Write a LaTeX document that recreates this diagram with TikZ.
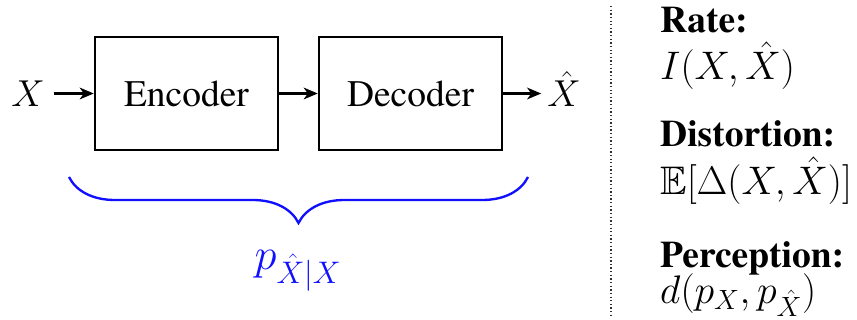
\RequirePackage{fix-cm}
\documentclass[tikz,border=0pt]{standalone}
\usepackage[T1]{fontenc}
\usepackage{times}
\usepackage{amssymb}
\usetikzlibrary{arrows.meta,decorations.pathreplacing}
\definecolor{colBlue}{HTML}{1010FF}
\definecolor{colGray}{HTML}{303030}
\def\boxfont{\fontsize{32pt}{38pt}\selectfont}
\def\varfont{\fontsize{32pt}{38pt}\selectfont}
\def\lblfont{\fontsize{38pt}{44pt}\selectfont}
\def\hdfont{\fontsize{32pt}{38pt}\selectfont\bfseries}
\def\eqfont{\fontsize{34pt}{40pt}\selectfont}
\tikzset{
  blockbox/.style={draw, line width=2.1pt, minimum width=5.49cm, minimum height=3.39cm,
    inner sep=0pt, font=\boxfont},
  flow/.style={line width=1.8pt, -{Stealth[length=12pt, width=10pt, inset=3.5pt]}},
  bracep/.style={draw=colBlue, line width=2pt,
    decorate, decoration={brace, mirror, amplitude=1.38cm}},
  rtitle/.style={anchor=base west, font=\hdfont, inner sep=0pt},
  rmath/.style={anchor=base west, font=\eqfont, inner sep=0pt}
}

\begin{document}
\begin{tikzpicture}[x=0.03cm, y=-0.03cm]
\useasboundingbox (0,0) rectangle (857,320);

% ===================== LEFT: encoder / decoder chain =====================
\node[blockbox] (enc) at (186.5,93.5) {Encoder};
\node[blockbox] (dec) at (410.5,93.5) {Decoder};
\node[font=\varfont, inner xsep=7.5pt, inner ysep=0pt] (src) at (28,93.5) {$X$};
\node[font=\varfont, anchor=base, inner xsep=5pt, inner ysep=0pt] (rec) at (564,107) {$\hat{X}$};

\draw[flow] (src.east) -- (enc.west);
\draw[flow] (enc.east) -- (dec.west);
\draw[flow] (dec.east) -- (dec.east -| rec.west);

\coordinate (brL) at (69,177);
\coordinate (brR) at (528,177);
\draw[bracep] (brL) -- (brR);
\node[font=\lblfont, text=colBlue, inner sep=0pt] (cond) at (298,271) {$p_{\hat{X}|X}$};

% ===================== separator =====================
\draw[colGray, dotted, line width=1.1pt] (611,6) -- (611,315);

% ===================== RIGHT: rate / distortion / perception =====================
\node[rtitle] (rate) at (660,33) {Rate:};
\node[rmath] (rateq) at (660,80) {$I(X,\hat{X})$};
\node[rtitle] (dist) at (660,147) {Distortion:};
\node[rmath] (disteq) at (660,195) {$\mathbb{E}[\Delta(X,\hat{X})]$};
\node[rtitle] (perc) at (660,268) {Perception:};
\node[rmath] (perceq) at (660,304) {$d(p_X,p_{\hat{X}})$};

\end{tikzpicture}
\end{document}
